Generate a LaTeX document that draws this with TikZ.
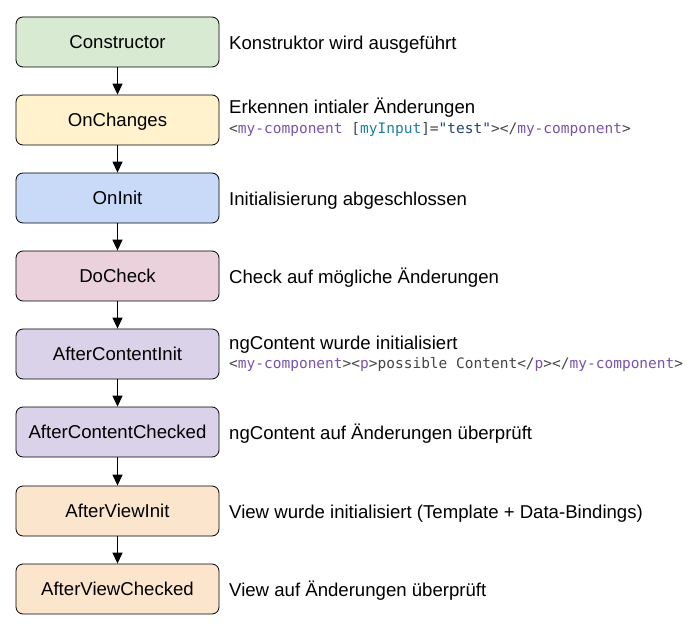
\documentclass[tikz,border=0pt]{standalone}
\usepackage{fontspec}
\setmainfont{Liberation Sans}
\newfontfamily\codefont{DejaVu Sans Mono}
\usetikzlibrary{arrows.meta}
\definecolor{cgreen}{HTML}{D9EAD3}
\definecolor{cyellow}{HTML}{FFF2CC}
\definecolor{cblue}{HTML}{C9DAF8}
\definecolor{cpink}{HTML}{EAD1DC}
\definecolor{cpurple}{HTML}{D9D2E9}
\definecolor{corange}{HTML}{FCE5CD}
\definecolor{ctag}{HTML}{7A52AA}
\definecolor{cattr}{HTML}{1B7FA3}
\definecolor{cstr}{HTML}{22456B}
\definecolor{cpun}{HTML}{444444}
\newcommand{\tg}[1]{\textcolor{ctag}{#1}}
\newcommand{\pu}[1]{\textcolor{cpun}{#1}}
\begin{document}
\begin{tikzpicture}[x=1pt,y=-1pt,
  stagebox/.style={draw=black,line width=0.8pt,rounded corners=7pt,minimum width=203pt,minimum height=50pt,inner sep=0pt,text height=13.3pt,text depth=0pt,font=\fontsize{18.6}{22}\selectfont},
  desc/.style={anchor=base west,inner sep=0pt,font=\fontsize{18.6}{22}\selectfont},
  code/.style={anchor=base west,inner sep=0pt,font=\codefont\fontsize{14.5}{17}\selectfont},
  flow/.style={-{Triangle[length=11pt,width=10pt]},line width=1.3pt}]
\useasboundingbox (0,0) rectangle (699,628);
\node[stagebox,fill=cgreen] (c) at (117.5,42) {Constructor};
\node[stagebox,fill=cyellow] (oc) at (117.5,120) {OnChanges};
\node[stagebox,fill=cblue] (oi) at (117.5,198) {OnInit};
\node[stagebox,fill=cpink] (dc) at (117.5,276) {DoCheck};
\node[stagebox,fill=cpurple] (aci) at (117.5,354) {AfterContentInit};
\node[stagebox,fill=cpurple] (acc) at (117.5,432) {AfterContentChecked};
\node[stagebox,fill=corange] (avi) at (117.5,511) {AfterViewInit};
\node[stagebox,fill=corange] (avc) at (117.5,589) {AfterViewChecked};
\draw[flow] (c) -- (oc);
\draw[flow] (oc) -- (oi);
\draw[flow] (oi) -- (dc);
\draw[flow] (dc) -- (aci);
\draw[flow] (aci) -- (acc);
\draw[flow] (acc) -- (avi);
\draw[flow] (avi) -- (avc);
\node[desc] (t1) at (229,49.3) {Konstruktor wird ausgeführt};
\node[desc] (t2) at (229,114) {Erkennen intialer Änderungen};
\node[code] (k2) at (229,134) {\pu{<}\tg{my-component} \pu{[}\textcolor{cattr}{myInput}\pu{]=}\textcolor{cstr}{"test"}\pu{></}\tg{my-component}\pu{>}};
\node[desc] (t3) at (229,205.3) {Initialisierung abgeschlossen};
\node[desc] (t4) at (229,283.3) {Check auf mögliche Änderungen};
\node[desc] (t5) at (229,349) {ngContent wurde initialisiert};
\node[code] (k5) at (229,369) {\pu{<}\tg{my-component}\pu{><}\tg{p}\pu{>possible Content</}\tg{p}\pu{></}\tg{my-component}\pu{>}};
\node[desc] (t6) at (229,439.3) {ngContent auf Änderungen überprüft};
\node[desc] (t7) at (229,518.3) {View wurde initialisiert (Template + Data-Bindings)};
\node[desc] (t8) at (229,596.3) {View auf Änderungen überprüft};
\end{tikzpicture}
\end{document}
